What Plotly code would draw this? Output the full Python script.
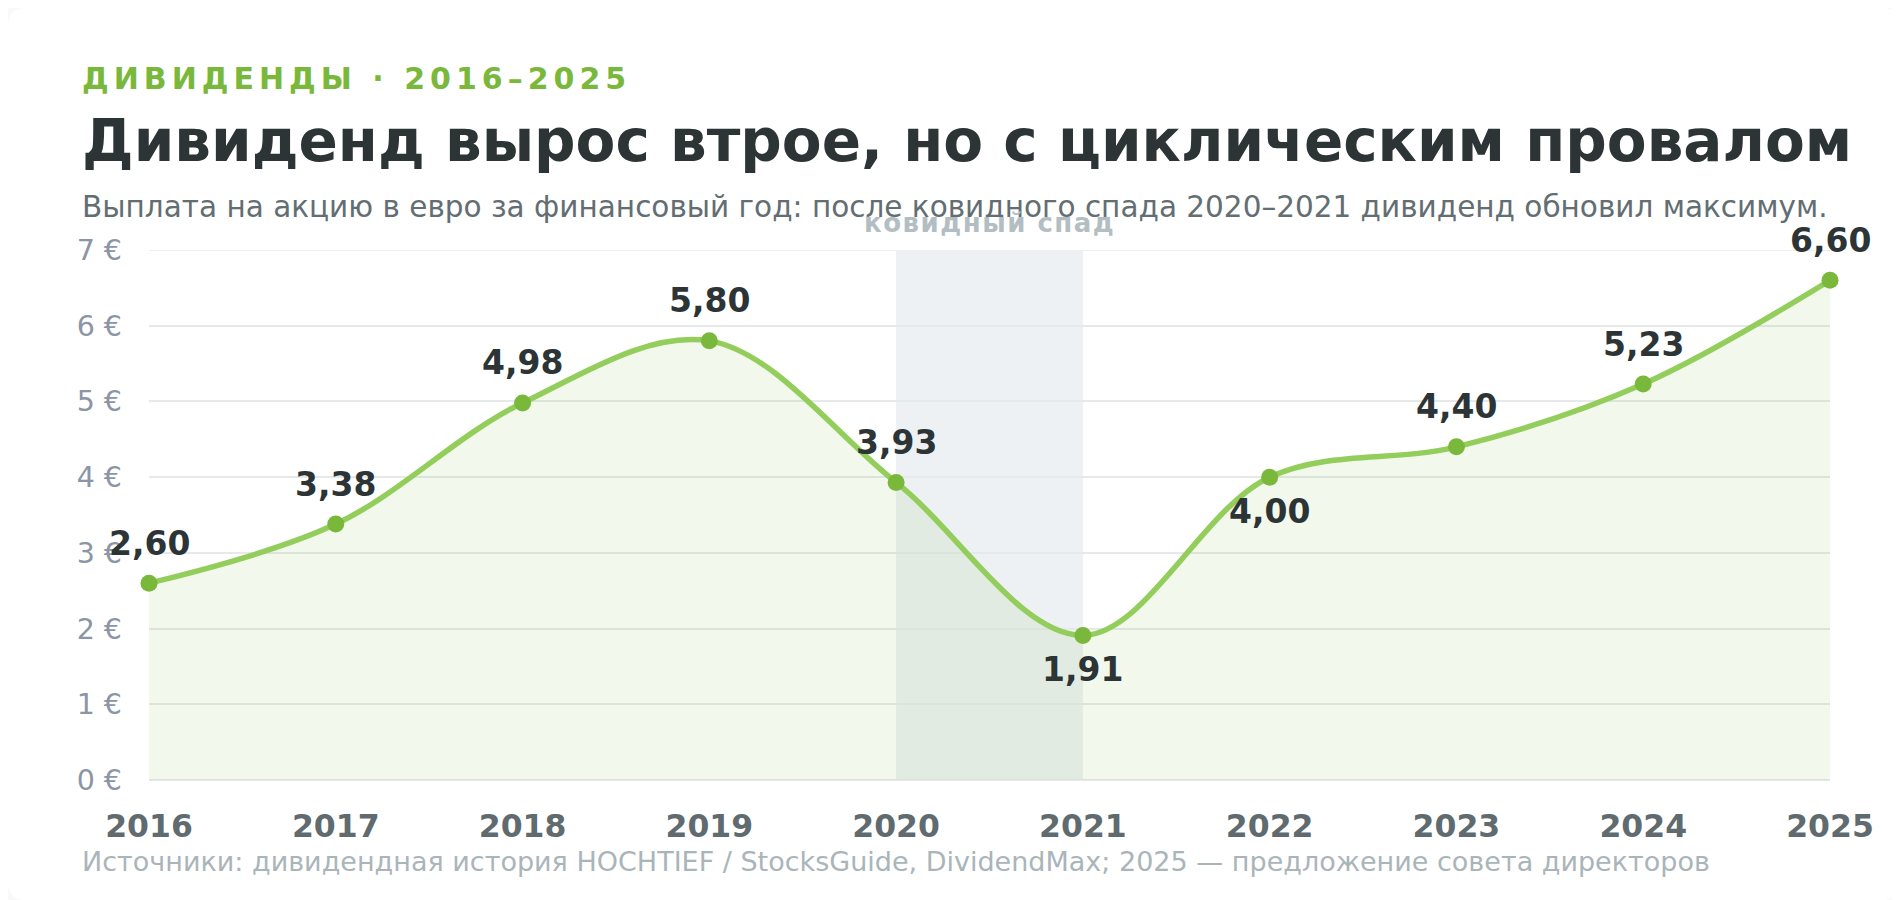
import plotly.graph_objects as go

years = [2016, 2017, 2018, 2019, 2020, 2021, 2022, 2023, 2024, 2025]
dividend = [2.60, 3.38, 4.98, 5.80, 3.93, 1.91, 4.00, 4.40, 5.23, 6.60]
labels_below = [2021, 2022]
y_ticks = [0, 1, 2, 3, 4, 5, 6, 7]
covid_start, covid_end = 2020, 2021

W, H = 1900, 900
OFF = 8  # page body margin: screen = figure + 8
M = dict(l=149 - OFF, r=W - (1830 - OFF), t=250 - OFF, b=H - (780 - OFF))
PW = W - M['l'] - M['r']
PH = H - M['t'] - M['b']


def px_x(x):
    # screen x -> paper
    return (x - OFF - M['l']) / PW


def px_y(y):
    # screen y -> paper
    return (H - M['b'] - (y - OFF)) / PH


def card_path(x0, y0, x1, y1, r):
    a0, a1 = px_x(x0), px_x(x1)
    b0, b1 = px_y(y0), px_y(y1)
    rx, ry = r / PW, r / PH
    return (f"M {a0 + rx} {b0} L {a1 - rx} {b0} Q {a1} {b0} {a1} {b0 - ry} "
            f"L {a1} {b1 + ry} Q {a1} {b1} {a1 - rx} {b1} "
            f"L {a0 + rx} {b1} Q {a0} {b1} {a0} {b1 + ry} "
            f"L {a0} {b0 - ry} Q {a0} {b0} {a0 + rx} {b0} Z")


FONT = "DejaVu Sans"
GREEN = "#7ab83c"
LINE = "#93cd5b"
DARK = "#2c3436"
GRID = "#e6e9ea"

fig = go.Figure()

# white card first, so everything else sits on it
fig.add_shape(type='path', xref='paper', yref='paper',
              path=card_path(OFF, OFF, W, H, 18),
              fillcolor='white', line_width=0, layer='below')

# covid shading
fig.add_shape(type='rect', xref='x', yref='y',
              x0=covid_start, x1=covid_end, y0=0, y1=max(y_ticks),
              fillcolor='#edf1f4', line_width=0, layer='below')

# top gridline (plotly drops the one on the plot edge)
fig.add_shape(type='line', xref='paper', yref='y', x0=0, x1=1,
              y0=max(y_ticks), y1=max(y_ticks),
              line=dict(color=GRID, width=1.5), layer='below')

fig.add_trace(go.Scatter(
    x=years, y=dividend,
    mode='lines+markers',
    line=dict(color=LINE, width=5.5, shape='spline', smoothing=1),
    marker=dict(color=GREEN, size=17),
    fill='tozeroy', fillcolor='rgba(124,185,62,0.10)',
    cliponaxis=False, hoverinfo='x+y', showlegend=False,
))

annotations = []
for yr, v in zip(years, dividend):
    below = yr in labels_below
    annotations.append(dict(
        x=yr, y=v, xref='x', yref='y', showarrow=False,
        text=f"{v:.2f}".replace('.', ','),
        yshift=-34 if below else 40, yanchor='middle',
        font=dict(family=FONT, size=33, color=DARK, weight='bold'),
    ))

annotations += [
    dict(x=px_x(80), y=px_y(79), xref='paper', yref='paper', xanchor='left', yanchor='middle',
         showarrow=False,
         text='<span style="letter-spacing:5px">ДИВИДЕНДЫ · 2016–2025</span>',
         font=dict(family=FONT, size=30, color=GREEN, weight='bold')),
    dict(x=px_x(80), y=px_y(141), xref='paper', yref='paper', xanchor='left', yanchor='middle',
         showarrow=False,
         text='Дивиденд вырос втрое, но с циклическим провалом',
         font=dict(family=FONT, size=58, color=DARK, weight='bold')),
    dict(x=px_x(80), y=px_y(207), xref='paper', yref='paper', xanchor='left', yanchor='middle',
         showarrow=False,
         text='Выплата на акцию в евро за финансовый год: после ковидного спада 2020–2021 '
              'дивиденд обновил максимум.',
         font=dict(family=FONT, size=29.5, color='#636e72')),
    dict(x=(covid_start + covid_end) / 2, y=px_y(223), xref='x', yref='paper',
         xanchor='center', yanchor='middle', showarrow=False,
         text='<span style="letter-spacing:1.5px">ковидный спад</span>',
         font=dict(family=FONT, size=26, color='#b3bec3', weight='bold')),
    dict(x=px_x(80), y=px_y(861), xref='paper', yref='paper', xanchor='left', yanchor='middle',
         showarrow=False,
         text='Источники: дивидендная история HOCHTIEF / StocksGuide, DividendMax; '
              '2025 — предложение совета директоров',
         font=dict(family=FONT, size=27, color='#aab5ba')),
]

fig.update_layout(
    width=W, height=H,
    margin=M,
    paper_bgcolor='#f8f9f8',
    plot_bgcolor='rgba(0,0,0,0)',
    font=dict(family=FONT),
    annotations=annotations,
    xaxis=dict(
        range=[2016, 2025], tickvals=years, ticktext=[str(y) for y in years],
        showgrid=False, zeroline=False, showline=False, ticks='',
        tickfont=dict(family=FONT, size=31.5, color='#5f6b6f', weight='bold'),
        ticklabelstandoff=24,
    ),
    yaxis=dict(
        range=[0, 7], tickvals=y_ticks, ticktext=[f"{t} €" for t in y_ticks],
        showgrid=True, gridcolor=GRID, gridwidth=1.5,
        zeroline=True, zerolinecolor=GRID, zerolinewidth=1.5,
        showline=False, ticks='',
        tickfont=dict(family=FONT, size=28.5, color='#8b95a5'),
        ticklabelstandoff=26,
    ),
    hovermode='closest',
)

fig.write_html("out.html")
